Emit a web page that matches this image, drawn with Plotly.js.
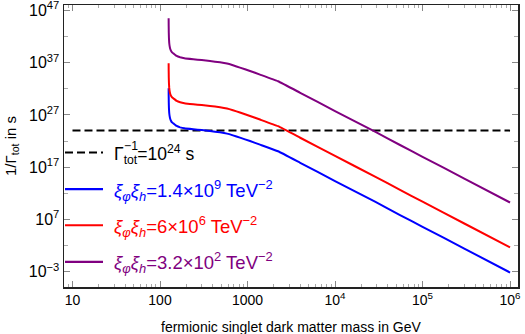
<!DOCTYPE html>
<html><head><meta charset="utf-8">
<script src="https://cdn.plot.ly/plotly-3.0.1.min.js"></script>
<style>html,body{margin:0;padding:0;background:#fff}</style>
</head><body><div id="chart" style="width:525px;height:334px"></div>
<script>
// fermionic singlet dark matter mass in GeV
const massGeV = [125.5, 125.7, 126.0, 126.5, 127.5, 129, 131, 134, 138, 145, 155, 170, 190, 240, 300, 373, 485, 583, 682, 820, 1069, 1390, 2234, 4000, 10000, 28650, 55300, 100000, 300000, 1000000];
// 1/Gamma_tot in s, for xi_phi xi_h = 3.2e2 TeV^-2 (purple)
const lifetimePurple = [3.09e45, 1.00e44, 6.31e42, 5.62e41, 5.75e40, 1.29e40, 4.07e39, 1.62e39, 8.32e38, 4.57e38, 1.91e38, 1.05e38, 6.76e37, 4.37e37, 3.09e37, 2.04e37, 1.17e37, 6.61e36, 3.09e36, 1.12e36, 2.51e35, 5.13e34, 2.75e33, 1.70e31, 5.50e27, 6.31e23, 1.74e21, 9.77e18, 6.61e14, 1.74e10];
// xi_phi xi_h = 6e6 TeV^-2 (red)
const lifetimeRed = [7.76e36, 2.51e35, 1.58e34, 1.41e33, 1.45e32, 3.24e31, 1.02e31, 4.07e30, 2.09e30, 1.15e30, 4.79e29, 2.63e29, 1.70e29, 1.10e29, 7.76e28, 5.13e28, 2.95e28, 1.66e28, 7.76e27, 2.82e27, 6.31e26, 1.29e26, 6.92e24, 4.27e22, 1.38e19, 1.58e15, 4.37e12, 2.45e10, 1.66e6, 43.7];
// xi_phi xi_h = 1.4e9 TeV^-2 (blue)
const lifetimeBlue = [1.23e32, 3.98e30, 2.51e29, 2.24e28, 2.29e27, 5.13e26, 1.62e26, 6.46e25, 3.31e25, 1.82e25, 7.59e24, 4.17e24, 2.69e24, 1.74e24, 1.23e24, 8.13e23, 4.68e23, 2.63e23, 1.23e23, 4.47e22, 1.00e22, 2.04e21, 1.10e20, 6.76e17, 2.19e14, 2.51e10, 6.92e7, 3.89e5, 26.3, 6.92e-4];
// bound Gamma_tot^-1 = 1e24 s
const boundMass = [10, 1000000];
const boundLifetime = [1e24, 1e24];

const seriesLabels = [
  '<i>ξ</i><sub><i>φ</i></sub><i>ξ</i><sub><i>h</i></sub>=1.4×10<sup>9</sup> TeV<sup>−2</sup>',
  '<i>ξ</i><sub><i>φ</i></sub><i>ξ</i><sub><i>h</i></sub>=6×10<sup>6</sup> TeV<sup>−2</sup>',
  '<i>ξ</i><sub><i>φ</i></sub><i>ξ</i><sub><i>h</i></sub>=3.2×10<sup>2</sup> TeV<sup>−2</sup>'
];
const seriesColors = ['#0000ff', '#ff0000', '#800080'];
const boundLabel = 'Γ<sub>tot</sub>=10<sup>24</sup> s';
const boundLabelSup = '<sup>−1</sup>';

const xTickVals = [10, 100, 1000, 1e4, 1e5, 1e6];
const xTickText = ['10', '100', '1000', '10<sup>4</sup>', '10<sup>5</sup>', '10<sup>6</sup>'];
const yTickVals = [1e-3, 1e7, 1e17, 1e27, 1e37, 1e47];
const yTickText = ['10<sup>−3</sup>', '10<sup>7</sup>', '10<sup>17</sup>', '10<sup>27</sup>', '10<sup>37</sup>', '10<sup>47</sup>'];
const yMinorVals = [1e2, 1e12, 1e22, 1e32, 1e42];

const FONT = '"Liberation Sans", Arial, sans-serif';
const series = [lifetimeBlue, lifetimeRed, lifetimePurple];

const traces = [{
  x: boundMass, y: boundLifetime, mode: 'lines',
  line: {color: '#000', width: 2, dash: '8px,4px'}, hoverinfo: 'skip'
}];
series.forEach((s, i) => traces.push({
  x: massGeV, y: s, mode: 'lines',
  line: {color: seriesColors[i], width: 2, shape: 'spline', smoothing: 0.3}
}));

// custom legend (paper coords)
const L = 64, R = 518, T = 5, B = 286.7;
const px = v => (v - L) / (R - L);
const py = v => (B - v) / (B - T);
const legendY = [189, 225, 261.7];
const shapes = [{
  type: 'line', xref: 'paper', yref: 'paper', x0: px(65), x1: px(103), y0: py(152.3), y1: py(152.3),
  line: {color: '#000', width: 2, dash: '8px,4px'}
}];
const annotations = [
  {xref: 'paper', yref: 'paper', x: px(112), y: py(154), xanchor: 'left', yanchor: 'middle',
   text: boundLabel, showarrow: false, font: {family: FONT, size: 17.5, color: '#000'}},
  {xref: 'paper', yref: 'paper', x: px(122), y: py(145.5), xanchor: 'left', yanchor: 'middle',
   text: boundLabelSup, showarrow: false, font: {family: FONT, size: 17.5, color: '#000'}},
  {xref: 'paper', yref: 'paper', x: 0.5, y: -40 / (B - T), xanchor: 'center', yanchor: 'middle',
   text: 'fermionic singlet dark matter mass in GeV', showarrow: false, font: {family: FONT, size: 14, color: '#000'}},
  {xref: 'paper', yref: 'paper', x: px(11), y: 0.5, xanchor: 'center', yanchor: 'middle', textangle: -90,
   text: '1/Γ<sub>tot</sub> in s', showarrow: false, font: {family: FONT, size: 15, color: '#000'}}
];
seriesLabels.forEach((t, i) => {
  shapes.push({type: 'line', xref: 'paper', yref: 'paper', x0: px(65), x1: px(103), y0: py(legendY[i]), y1: py(legendY[i]),
    line: {color: seriesColors[i], width: 2.2}});
  annotations.push({xref: 'paper', yref: 'paper', x: px(112), y: py(legendY[i] + 1), xanchor: 'left', yanchor: 'middle',
    text: t, showarrow: false, font: {family: FONT, size: 18.5, color: seriesColors[i]}});
});

const axisCommon = {
  showline: true, linecolor: '#222', linewidth: 1.5, mirror: 'allticks',
  ticks: 'inside', ticklen: 6, tickwidth: 1, tickcolor: '#888',
  showgrid: false, zeroline: false, ticklabeloverflow: 'allow'
};

const layout = {
  width: 525, height: 334,
  margin: {l: L, r: 525 - R, t: T, b: 334 - B},
  paper_bgcolor: '#fff', plot_bgcolor: '#fff',
  showlegend: false,
  xaxis: Object.assign({}, axisCommon, {
    type: 'log', range: [0.903, 6.091], tickmode: 'array', tickvals: xTickVals, ticktext: xTickText,
    tickfont: {family: FONT, size: 14, color: '#000'},
    minor: {ticks: 'inside', ticklen: 3, tickcolor: '#aaa', dtick: 'D1', showgrid: false}
  }),
  yaxis: Object.assign({}, axisCommon, {
    type: 'log', range: [-5.93, 48.03], tickmode: 'array', tickvals: yTickVals, ticktext: yTickText,
    tickfont: {family: FONT, size: 16, color: '#000'},
    minor: {ticks: 'inside', ticklen: 4, tickcolor: '#aaa', tickmode: 'array', tickvals: yMinorVals, showgrid: false}
  }),
  shapes: shapes,
  annotations: annotations
};

Plotly.newPlot('chart', traces, layout, {displayModeBar: false, staticPlot: true});
</script></body></html>
